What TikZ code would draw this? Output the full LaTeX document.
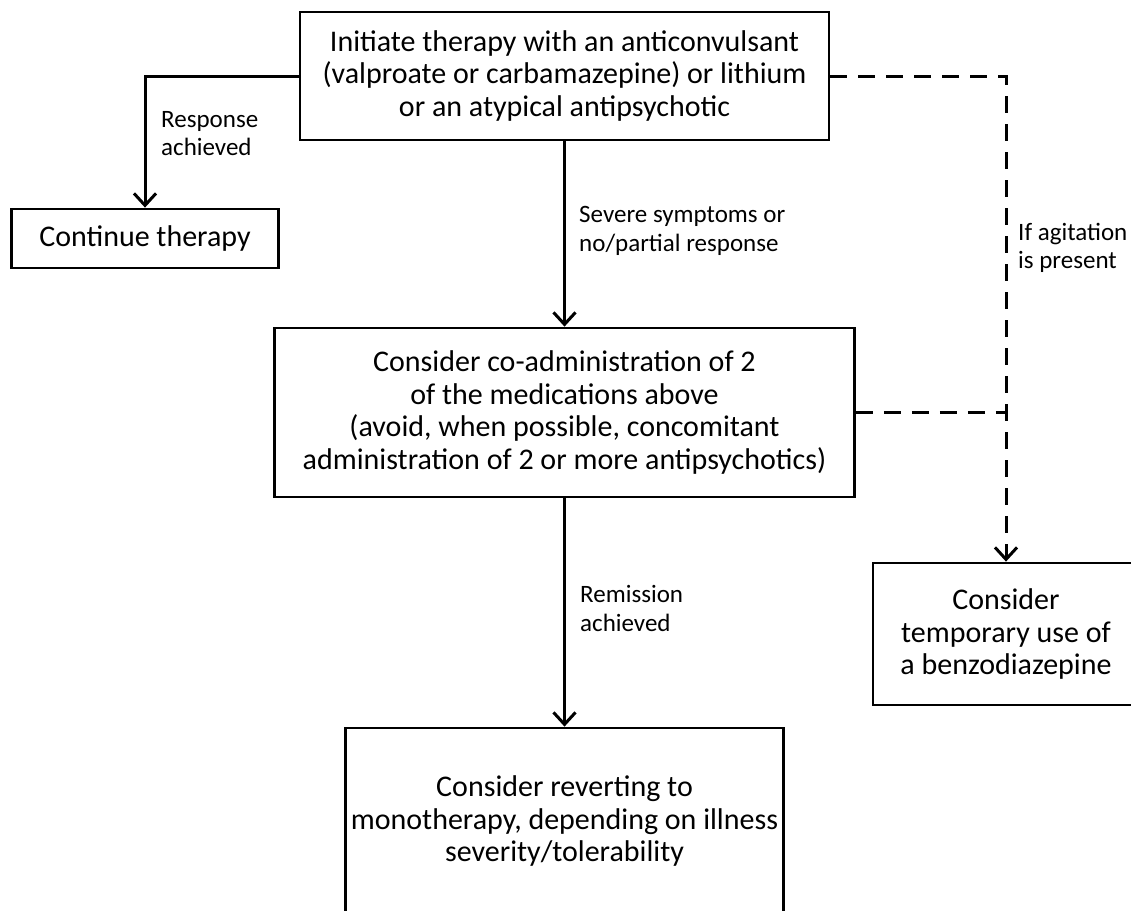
\documentclass[tikz,border=0pt]{standalone}
\usepackage{fontspec}
\setmainfont{Carlito}
\usetikzlibrary{arrows.meta}
\tikzset{
  box/.style={draw=black, line width=2.8pt, rectangle, align=center, inner sep=0pt,
    font=\fontsize{30}{32.5}\selectfont},
  lbl/.style={align=left, inner sep=0pt, anchor=west, font=\fontsize{25}{28.5}\selectfont},
  conn/.style={line width=3pt, -{Straight Barb[length=12pt,width=22pt,line width=3pt]}},
  plain/.style={line width=3pt},
  dsh/.style={dash pattern=on 17pt off 11pt}
}
\begin{document}
\begin{tikzpicture}[x=1pt,y=-1pt]
\path[use as bounding box, clip] (0,0) rectangle (1131,910);
\fill[white] (0,0) rectangle (1131,910);
\node[box, minimum width=529pt, minimum height=128pt] (top) at (564.5,76)
  {Initiate therapy with an anticonvulsant\\(valproate or carbamazepine) or lithium\\or an atypical antipsychotic};
\node[box, minimum width=267pt, minimum height=59pt] (cont) at (145,238.5) {Continue therapy};
\node[box, minimum width=580pt, minimum height=169pt] (mid) at (564.5,412.5)
  {Consider co-administration of 2\\of the medications above\\(avoid, when possible, concomitant\\administration of 2 or more antipsychotics)};
\node[box, minimum width=438pt, minimum height=186pt] (bot) at (564.5,821)
  {Consider reverting to\\monotherapy, depending on illness\\severity/tolerability};
\node[box, minimum width=266pt, minimum height=142pt] (benzo) at (1006,634)
  {Consider\\temporary use of\\a benzodiazepine};
\node[lbl] (l1) at (161,133.5) {Response\\achieved};
\node[lbl] (l2) at (579,231) {Severe symptoms or\\no/partial response};
\node[lbl] (l3) at (580,608.5) {Remission\\achieved};
\node[lbl] (l4) at (1018,248) {If agitation\\is present};
\draw[conn] (top.west) -| (cont.north);
\draw[conn] (top.south) -- (mid.north);
\draw[conn] (mid.south) -- (bot.north);
\draw[conn, dsh] (top.east) -| (benzo.north);
\draw[plain, dsh] (mid.east) -- (mid.east -| benzo.north);
\end{tikzpicture}
\end{document}
